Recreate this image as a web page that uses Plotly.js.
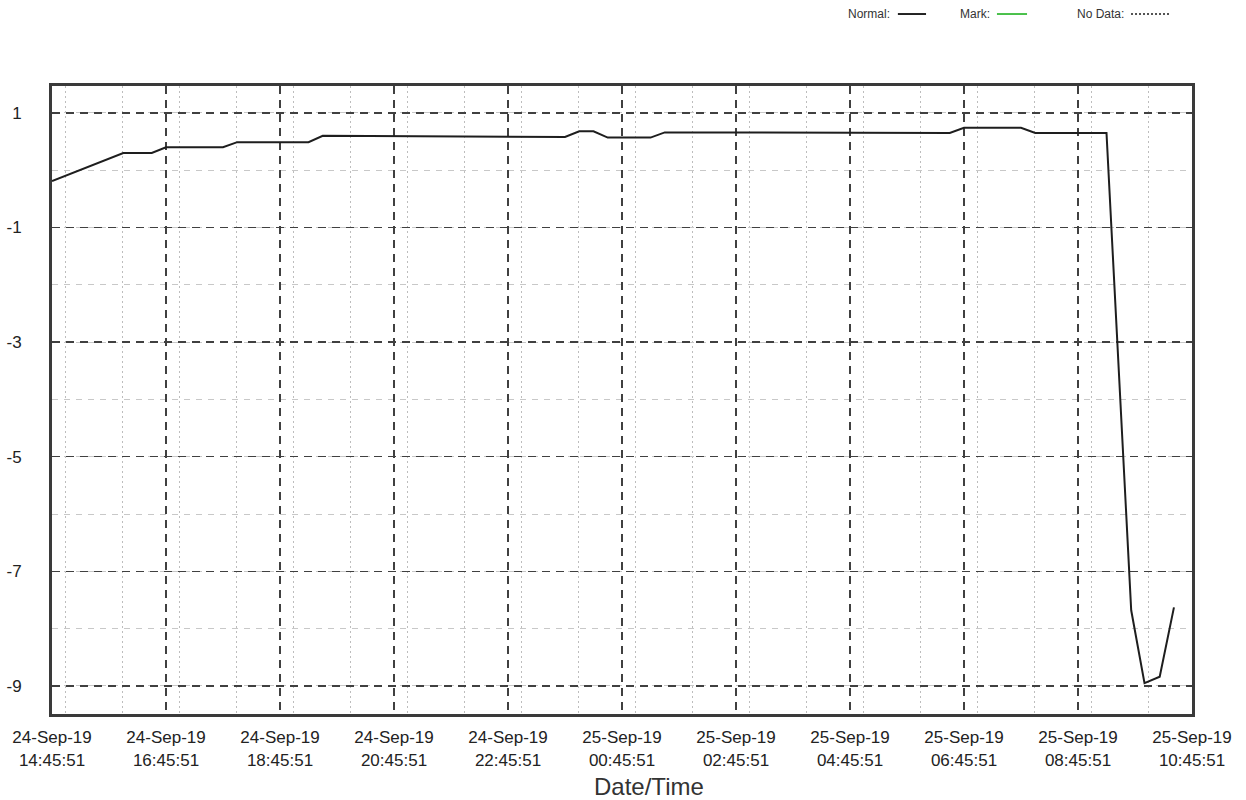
<!DOCTYPE html>
<html>
<head>
<meta charset="utf-8">
<script src="https://cdn.plot.ly/plotly-3.0.1.min.js"></script>
<style>
  html, body { margin: 0; padding: 0; background: #ffffff; }
  #chart { width: 1246px; height: 800px; }
</style>
</head>
<body>
<div id="chart"></div>
<script>
// ---- data ----
const times = [
  '2019-09-24 14:45:51', '2019-09-24 16:00:51', '2019-09-24 16:30:51', '2019-09-24 16:45:51',
  '2019-09-24 17:45:51', '2019-09-24 18:00:51', '2019-09-24 19:15:51', '2019-09-24 19:30:51',
  '2019-09-24 23:45:51', '2019-09-25 00:00:51', '2019-09-25 00:15:51', '2019-09-25 00:30:51',
  '2019-09-25 01:15:51', '2019-09-25 01:30:51', '2019-09-25 06:30:51', '2019-09-25 06:45:51',
  '2019-09-25 07:45:51', '2019-09-25 08:00:51', '2019-09-25 09:15:51', '2019-09-25 09:41:51',
  '2019-09-25 09:55:51', '2019-09-25 10:11:51', '2019-09-25 10:26:51'
];
const values = [
  -0.19, 0.30, 0.30, 0.40,
  0.40, 0.49, 0.49, 0.60,
  0.58, 0.68, 0.68, 0.57,
  0.57, 0.66, 0.65, 0.74,
  0.74, 0.65, 0.65, -7.68,
  -8.95, -8.84, -7.63
];
const xStart = '2019-09-24 14:45:51';
const xEnd = '2019-09-25 10:45:51';
const yTicks = [1, -1, -3, -5, -7, -9];
const legendLabels = ['Normal:', 'Mark:', 'No Data:'];
const axisTitle = 'Date/Time';

const FONT = '"Liberation Sans", Arial, sans-serif';

const trace = {
  x: times,
  y: values,
  type: 'scatter',
  mode: 'lines',
  line: { color: '#1e1e1e', width: 2 },
  showlegend: false,
  hoverinfo: 'x+y'
};

const layout = {
  width: 1246,
  height: 800,
  paper_bgcolor: '#ffffff',
  plot_bgcolor: '#ffffff',
  margin: { l: 52, r: 54, t: 86, b: 86, pad: 0 },
  font: { family: FONT, color: '#222', size: 15 },
  showlegend: false,
  xaxis: {
    type: 'date',
    range: [xStart, xEnd],
    tick0: xStart,
    dtick: 2 * 3600 * 1000,
    tickformat: '%d-%b-%y<br>%H:%M:%S',
    tickfont: { family: FONT, size: 17, color: '#222' },
    ticks: '',
    ticklabelstandoff: 6,
    showline: true, mirror: true, linecolor: '#3a3a3a', linewidth: 3,
    showgrid: true, gridcolor: '#404040', gridwidth: 1.5, griddash: '8px,6px',
    zeroline: false,
    minor: { dtick: 3600 * 1000, showgrid: true, gridcolor: '#bdbdbd', gridwidth: 1, griddash: '2px,3px' },
    automargin: false
  },
  yaxis: {
    range: [-9.49, 1.47],
    tickvals: yTicks,
    ticktext: yTicks.map(String),
    tickfont: { family: FONT, size: 17, color: '#222' },
    ticks: '',
    ticklabelstandoff: 24,
    showline: true, mirror: true, linecolor: '#3a3a3a', linewidth: 3,
    showgrid: true, gridcolor: '#404040', gridwidth: 1.5, griddash: '8px,6px',
    zeroline: false,
    minor: { dtick: 1, tick0: 0, showgrid: true, gridcolor: '#c8c8c8', gridwidth: 1, griddash: '6px,6px' },
    automargin: false
  },
  annotations: [
    { text: axisTitle, xref: 'paper', yref: 'paper', x: 0.5237, y: -0.1162, xanchor: 'center', yanchor: 'middle', showarrow: false, font: { family: FONT, size: 24, color: '#333' } },
    { text: legendLabels[0], xref: 'paper', yref: 'paper', x: 0.7368, y: 1.1146, xanchor: 'right', yanchor: 'middle', showarrow: false, font: { family: FONT, size: 12, color: '#333' } },
    { text: legendLabels[1], xref: 'paper', yref: 'paper', x: 0.8246, y: 1.1146, xanchor: 'right', yanchor: 'middle', showarrow: false, font: { family: FONT, size: 12, color: '#333' } },
    { text: legendLabels[2], xref: 'paper', yref: 'paper', x: 0.9421, y: 1.1146, xanchor: 'right', yanchor: 'middle', showarrow: false, font: { family: FONT, size: 12, color: '#333' } }
  ],
  shapes: [
    { type: 'line', xref: 'paper', yref: 'paper', x0: 0.742, x1: 0.7667, y0: 1.1146, y1: 1.1146, line: { color: '#222', width: 2 } },
    { type: 'line', xref: 'paper', yref: 'paper', x0: 0.8289, x1: 0.8553, y0: 1.1146, y1: 1.1146, line: { color: '#49c04a', width: 2 } },
    { type: 'line', xref: 'paper', yref: 'paper', x0: 0.9465, x1: 0.9807, y0: 1.1146, y1: 1.1146, line: { color: '#555', width: 2, dash: '2px,2px' } }
  ]
};

Plotly.newPlot('chart', [trace], layout, { displayModeBar: false, staticPlot: true });
</script>
</body>
</html>
